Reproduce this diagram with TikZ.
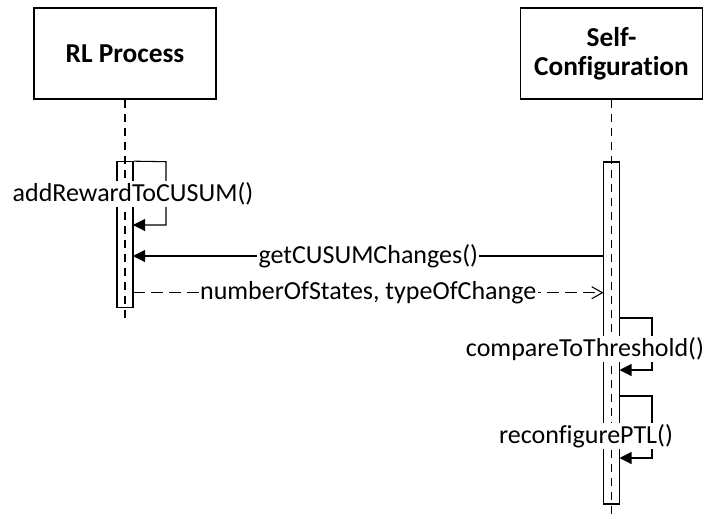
\documentclass[tikz,border=0pt]{standalone}
\usepackage{fontspec}
\setmainfont[Ligatures=NoCommon]{Carlito}
\usetikzlibrary{arrows.meta}

\begin{document}
\begin{tikzpicture}[x=0.75pt,y=-0.75pt,line width=0.8pt]
    %
    % `actor' is used for the two objects at the top.
    % `activation' is used for the thin bars on the lifelines.
    % `lifeline' is the dashed line below each object.
    % `call' and `reply' are the messages, `lbl' their texts.
    \tikzstyle{actor} = [draw,minimum width=136.5pt,minimum height=68.25pt,font=\fontsize{20.5}{22}\selectfont\bfseries,align=center,inner sep=0pt]
    \tikzstyle{activation} = [draw,minimum width=12pt,inner sep=0pt]
    \tikzstyle{lifeline} = [dash pattern=on 6.5pt off 4pt]
    \tikzstyle{call} = [-{Triangle[length=9pt,width=9pt]}]
    \tikzstyle{reply} = [dash pattern=on 9pt off 4.5pt,-{Straight Barb[length=8pt,width=9pt]}]
    \tikzstyle{lbl} = [fill=white,inner sep=1pt,font=\fontsize{19.5}{22}\selectfont]
    %
    \useasboundingbox (0,0) rectangle (707,518);
    %
    % Objects
    \node[actor] (rl) at (125,53.5) {RL Process};
    \node[actor] (sc) at (611.5,53.5) {Self-\\Configuration};
    %
    % Lifelines
    \coordinate (rlend) at (125,323);
    \coordinate (scend) at (611.5,518);
    \draw[lifeline] (rl.south) -- (rlend);
    \draw[lifeline] (sc.south) -- (scend);
    %
    % Activations
    \node[activation,minimum height=109.5pt] (act1) at (125,234.7) {};
    \node[activation,minimum height=256.5pt] (act2) at (611.5,333) {};
    %
    % Self call on RL Process
    \coordinate (addtop) at (166,161.7);
    \coordinate (addend) at (133,225);
    \draw[call] (act1.north east) -- (addtop) |- (addend);
    \node[lbl] (add) at (133,194) {addRewardToCUSUM()};
    %
    % Messages
    \coordinate (getfrom) at (603.5,256);
    \coordinate (getto) at (133,256);
    \draw[call] (getfrom) -- node[lbl] (get) {getCUSUMChanges()} (getto);
    \coordinate (retfrom) at (133,292.7);
    \coordinate (retto) at (603.5,292.7);
    \draw[reply] (retfrom) -- node[lbl] (ret) {numberOfStates, typeOfChange} (retto);
    %
    % Self calls on Self-Configuration
    \coordinate (cmpfrom) at (619.5,318);
    \coordinate (cmptop) at (652,318);
    \coordinate (cmpend) at (619.5,370);
    \draw[call] (cmpfrom) -- (cmptop) |- (cmpend);
    \node[lbl] (cmp) at (585,349) {compareToThreshold()};
    \coordinate (ptlfrom) at (619.5,396);
    \coordinate (ptltop) at (652,396);
    \coordinate (ptlend) at (619.5,458);
    \draw[call] (ptlfrom) -- (ptltop) |- (ptlend);
    \node[lbl] (ptl) at (586,436) {reconfigurePTL()};
    %
\end{tikzpicture}
\end{document}
